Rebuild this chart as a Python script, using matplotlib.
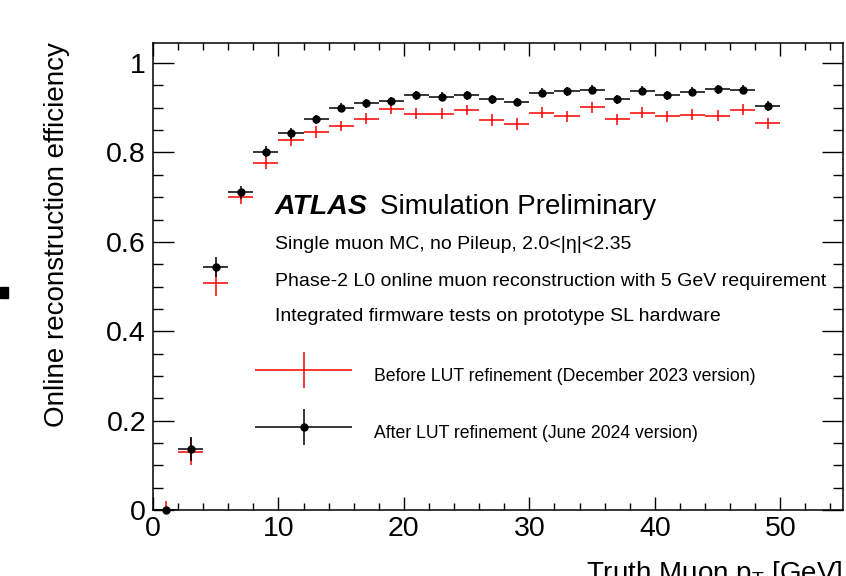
import matplotlib
matplotlib.use('Agg')
import matplotlib.pyplot as plt
import numpy as np
from matplotlib.ticker import MultipleLocator, FuncFormatter
from matplotlib.legend_handler import HandlerErrorbar
from matplotlib.patches import Rectangle

plt.rcParams['font.family'] = ['Liberation Sans', 'DejaVu Sans']

# bin centres (2 GeV bins) and efficiencies
pt = [1, 3, 5, 7, 9, 11, 13, 15, 17, 19, 21, 23, 25, 27, 29, 31, 33, 35, 37, 39,
      41, 43, 45, 47, 49]
pt_halfwidth = [1] * 25

eff_before = [0.0, 0.130, 0.507, 0.701, 0.777, 0.828, 0.846, 0.859, 0.876, 0.898,
              0.887, 0.887, 0.895, 0.873, 0.864, 0.889, 0.881, 0.901, 0.874, 0.889,
              0.881, 0.885, 0.882, 0.896, 0.865]
err_before = [0.02, 0.030, 0.028, 0.017, 0.015, 0.013, 0.013, 0.012, 0.012, 0.012,
              0.012, 0.012, 0.012, 0.013, 0.013, 0.012, 0.012, 0.012, 0.012, 0.012,
              0.012, 0.012, 0.012, 0.012, 0.013]

eff_after = [0.0, 0.136, 0.544, 0.711, 0.802, 0.843, 0.874, 0.900, 0.910, 0.915,
             0.928, 0.925, 0.928, 0.919, 0.913, 0.934, 0.937, 0.940, 0.919, 0.938,
             0.928, 0.936, 0.941, 0.940, 0.904]
err_after = [0.0, 0.027, 0.023, 0.015, 0.013, 0.012, 0.011, 0.010, 0.010, 0.010,
             0.010, 0.010, 0.010, 0.010, 0.010, 0.010, 0.010, 0.010, 0.010, 0.010,
             0.010, 0.010, 0.010, 0.010, 0.011]

label_before = 'Before LUT refinement (December 2023 version)'
label_after = 'After LUT refinement (June 2024 version)'

fig = plt.figure(figsize=(8.46, 5.76), dpi=100)
ax = fig.add_axes([153 / 846, 1 - 510 / 576, (843 - 153) / 846, (510 - 43) / 576])

# red: lower error clipped at zero
err_b = np.array(err_before)
eff_b = np.array(eff_before)
yerr_b = [np.minimum(err_b, eff_b), err_b]

h_before = ax.errorbar(pt, eff_before, xerr=pt_halfwidth, yerr=yerr_b, fmt='none',
                       ecolor='#ff0000', elinewidth=1.1, capsize=0, label=label_before)
h_after = ax.errorbar(pt, eff_after, xerr=pt_halfwidth, yerr=err_after, fmt='o',
                      color='black', ms=5, elinewidth=1.1, capsize=0, label=label_after)
h_after.lines[0].set_clip_on(False)

ax.set_xlim(0, 55)
ax.set_ylim(0, 1.045)

ax.xaxis.set_major_locator(MultipleLocator(10))
ax.xaxis.set_minor_locator(MultipleLocator(2))
ax.yaxis.set_major_locator(MultipleLocator(0.2))
ax.yaxis.set_minor_locator(MultipleLocator(0.05))
ax.yaxis.set_major_formatter(FuncFormatter(lambda v, p: f'{v:g}'))

ax.tick_params(axis='both', which='both', direction='in', top=True, right=True,
               labelsize=20.5, width=1.0, color='black')
ax.tick_params(axis='y', which='major', length=15, pad=5)
ax.tick_params(axis='y', which='minor', length=7.5)
ax.tick_params(axis='x', which='major', length=9.5, pad=4)
ax.tick_params(axis='x', which='minor', length=4.7)
for sp in ax.spines.values():
    sp.set_linewidth(1.1)

fig.text(57 / 846, 1 - 42 / 576, 'Online reconstruction efficiency', rotation=90,
         ha='center', va='top', fontsize=20)
fig.text(843 / 846, 1 - 581 / 576, 'Truth Muon p$_{\\mathregular{T}}$ [GeV]',
         ha='right', va='baseline', fontsize=20)

# ATLAS label block
fig.text(275 / 846, 1 - 214 / 576, 'ATLAS', fontsize=20.5, fontweight='bold',
         fontstyle='italic', va='baseline')
fig.text(380 / 846, 1 - 214 / 576, 'Simulation Preliminary', fontsize=20, va='baseline')
fig.text(275 / 846, 1 - 249 / 576, 'Single muon MC, no Pileup, 2.0<|η|<2.35',
         fontsize=14, va='baseline')
fig.text(275 / 846, 1 - 286 / 576,
         'Phase-2 L0 online muon reconstruction with 5 GeV requirement',
         fontsize=14, va='baseline')
fig.text(275 / 846, 1 - 321 / 576,
         'Integrated firmware tests on prototype SL hardware',
         fontsize=14, va='baseline')

fs = 12.7
leg = ax.legend(handles=[h_before, h_after], loc='upper left',
                bbox_to_anchor=(255 / 846, 1 - 360 / 576), bbox_transform=fig.transFigure,
                frameon=False, fontsize=fs, numpoints=1, borderpad=0, borderaxespad=0,
                handlelength=5.5, handleheight=2.3, handletextpad=1.26, labelspacing=1.49,
                handler_map={type(h_before): HandlerErrorbar(xerr_size=2.76, yerr_size=1.02)})

# small square at the left edge of the picture
fig.patches.append(Rectangle((0, 1 - 298 / 576), 8 / 846, 11 / 576,
                             transform=fig.transFigure, color='black', figure=fig))

fig.savefig('out.png', dpi=100)
